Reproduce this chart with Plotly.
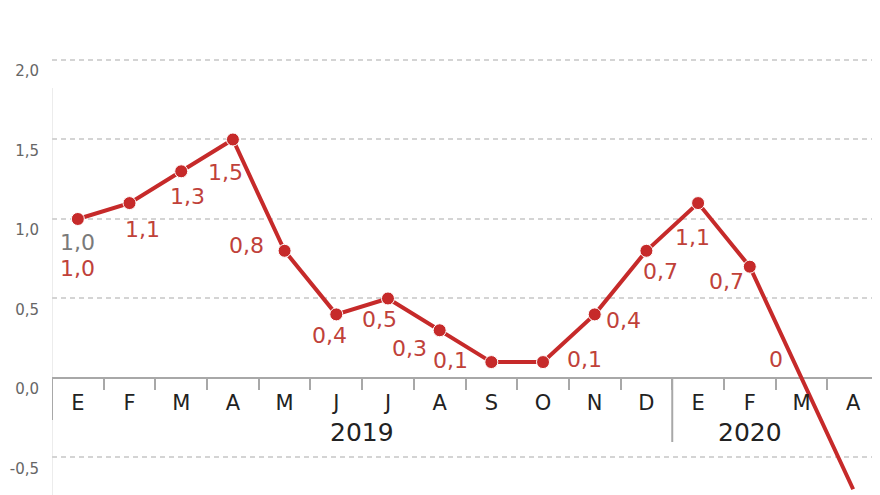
import plotly.graph_objects as go

# Datos: variación mensual (%), ene-2019 a abr-2020
meses = ['E', 'F', 'M', 'A', 'M', 'J', 'J', 'A', 'S', 'O', 'N', 'D',
         'E', 'F', 'M', 'A']
valores = [1.0, 1.1, 1.3, 1.5, 0.8, 0.4, 0.5, 0.3, 0.1, 0.1, 0.4, 0.8,
           1.1, 0.7, 0.0, -0.7]
etiquetas = ['1,0', '1,1', '1,3', '1,5', '0,8', '0,4', '0,5', '0,3', '0,1',
             '0,1', '0,4', '0,7', '1,1', '0,7', '0', '']
anios = ['2019', '2020']
anio_pos = [5.5, 13.0]
y_ticks = [-0.5, 0, 0.5, 1.0, 1.5, 2.0]
y_ticktext = ['-0,5', '0,0', '0,5', '1,0', '1,5', '2,0']

ROJO = '#C62A2A'
ROJO_TXT = '#C0413A'
FUENTE = 'DejaVu Sans'

# desplazamiento (px) de cada etiqueta respecto a su punto: (dx, dy hacia abajo)
offs = [(0, 50), (13, 26), (6, 25), (-7, 33), (-38, -5), (-7, 21), (-8, 21),
        (-30, 18), (-41, -2), (41, -3), (29, 6), (14, 21), (-6, 34),
        (-23, 15), (-25, -18), (0, 0)]

x = list(range(len(valores)))
Y0, Y1 = -0.736, 2.327   # la página tiene 8px de margen en el body

fig = go.Figure()
fig.add_trace(go.Scatter(
    x=x, y=valores, mode='lines+markers',
    line=dict(color=ROJO, width=4),
    marker=dict(color=ROJO, size=[13] * 14 + [0, 0], opacity=1),
    showlegend=False, hoverinfo='skip',
))

# etiquetas de valor
for i, (t, (dx, dy)) in enumerate(zip(etiquetas, offs)):
    if not t:
        continue
    fig.add_annotation(x=i, y=valores[i], text=t, showarrow=False,
                       xshift=dx, yshift=-dy,
                       font=dict(family=FUENTE, size=22, color=ROJO_TXT))
# el "1,0" gris sobre el primero
fig.add_annotation(x=0, y=valores[0], text='1,0', showarrow=False,
                   yshift=-24, font=dict(family=FUENTE, size=22, color='#7a7a7a'))

# años
for a, p in zip(anios, anio_pos):
    fig.add_annotation(x=p, y=0, text=a, showarrow=False, yshift=-55,
                       font=dict(family=FUENTE, size=25, color='#222'))

# separadores del eje
for xs, largo in [(-0.5, 42), (11.5, 64)]:
    fig.add_shape(type='line', xref='x', yref='y', x0=xs, x1=xs,
                  ysizemode='pixel', yanchor=0, y0=0, y1=-largo,
                  line=dict(color='#a8a8a8', width=2))
# línea vertical izquierda y borde derecho
fig.add_shape(type='line', xref='x', yref='y', x0=-0.5, x1=-0.5,
              y0=1.824, y1=Y0, line=dict(color='#e6e6e6', width=1.5), layer='below')
fig.add_shape(type='line', xref='paper', yref='paper', x0=0.998, x1=0.998,
              y0=0, y1=1, line=dict(color='#ececec', width=1.5), layer='below')

fig.update_layout(
    width=872, height=487,
    margin=dict(l=44, r=1, t=0, b=0, autoexpand=False),
    paper_bgcolor='white', plot_bgcolor='white',
    font=dict(family=FUENTE),
)
fig.update_xaxes(
    range=[-0.5, 15.5], anchor='free', position=-Y0 / (Y1 - Y0),
    automargin=False,
    tickmode='array', tickvals=x, ticktext=meses, ticks='',
    showgrid=False, zeroline=False, showline=False,
    tickfont=dict(family=FUENTE, size=21, color='#222'),
    ticklabelstandoff=10,
    minor=dict(tickmode='array', tickvals=[i + 0.5 for i in x[:-1]] + [15.5],
               ticks='outside', ticklen=11, tickcolor='#a8a8a8', tickwidth=2,
               showgrid=False),
)
fig.update_yaxes(
    range=[Y0, Y1], automargin=False,
    tickmode='array', tickvals=y_ticks, ticktext=y_ticktext, ticks='',
    showgrid=True, gridcolor='#d4d4d4', griddash='5px,4px', gridwidth=1.5,
    zeroline=True, zerolinecolor='#a8a8a8', zerolinewidth=2,
    showline=False,
    tickfont=dict(family=FUENTE, size=15, color='#666'),
    ticklabelstandoff=12, ticklabelshift=11,
)

fig.write_html('out.html')
